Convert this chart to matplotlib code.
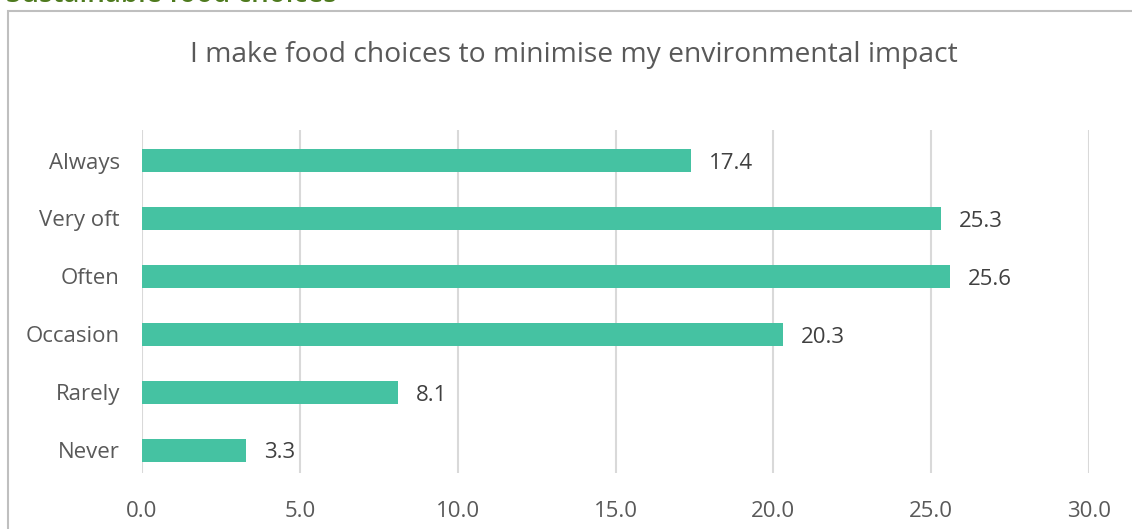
import matplotlib
matplotlib.use("Agg")
import matplotlib.pyplot as plt
from matplotlib.patches import Rectangle

categories = ["Always", "Very oft", "Often", "Occasion", "Rarely", "Never"]
values = [17.4, 25.3, 25.6, 20.3, 8.1, 3.3]
xticks = [0.0, 5.0, 10.0, 15.0, 20.0, 25.0, 30.0]
title = "I make food choices to minimise my environmental impact"
header = "Sustainable food choices"

W, H = 1132, 529
fig = plt.figure(figsize=(W / 100, H / 100), dpi=100)
plt.rcParams['font.family'] = ['Open Sans', 'DejaVu Sans']

# axes position in pixels: left 142, right 1089, top 130, bottom 473
left, right, top, bottom = 142, 1089, 130, 473
ax = fig.add_axes([left / W, 1 - bottom / H, (right - left) / W, (bottom - top) / H])

ypos = list(range(len(categories)))
ax.barh(ypos, values, height=0.397, color="#45C2A2", zorder=3)
ax.set_ylim(5.397, -0.527)
ax.set_xlim(0, 30)
ax.set_xticks(xticks)
ax.set_xticklabels([f"{t:.1f}" for t in xticks], fontsize=16, color="#595959")
ax.set_yticks(ypos)
ax.set_yticklabels(categories, fontsize=16, color="#595959")
ax.tick_params(axis='both', length=0)
ax.tick_params(axis='x', pad=20)
ax.tick_params(axis='y', pad=16)
for s in ax.spines.values():
    s.set_visible(False)
ax.grid(axis='x', color="#D9D9D9", linewidth=1.5, zorder=0)
ax.set_axisbelow(True)

for y, v in zip(ypos, values):
    ax.annotate(f"{v:.1f}", xy=(v, y), xytext=(13, -6.1), textcoords="offset points",
                ha="left", va="baseline", fontsize=16, color="#404040")

fig.text(0.5 * (190 + 958) / W, 1 - 55 / H, title, ha="center", va="center",
         fontsize=20.3, color="#595959")

fig.text(6 / W, 1 - 1.5 / H, header, ha="left", va="baseline", fontsize=20,
         color="#4E7A1E", fontweight="semibold")

border = Rectangle((8 / W, -0.1), 1.2, 1 - 11 / H + 0.1, transform=fig.transFigure,
                   fill=False, edgecolor="#BFBFBF", linewidth=1.5)
fig.patches.append(border)

fig.savefig("out.png", dpi=100)
